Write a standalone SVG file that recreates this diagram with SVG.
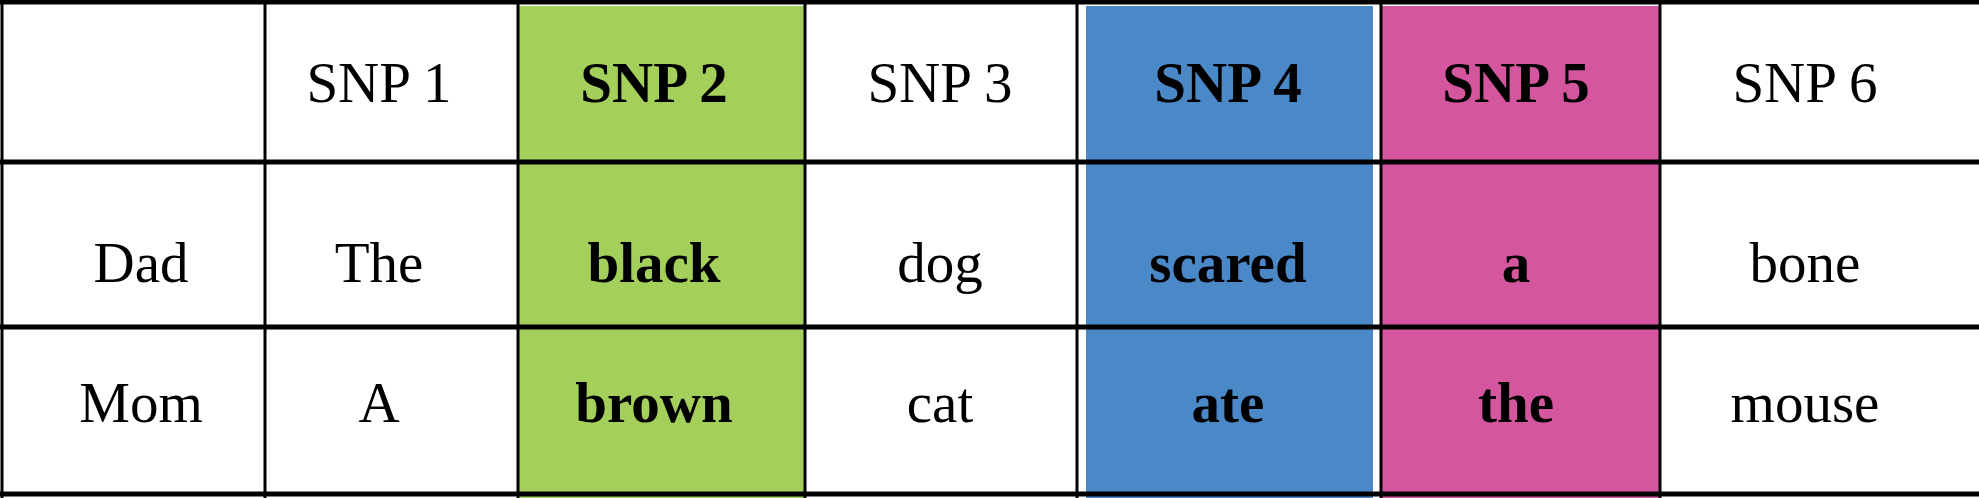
<svg xmlns="http://www.w3.org/2000/svg" width="1979" height="498" viewBox="0 0 1979 498">
<style>
text{font-family:"Liberation Serif",serif;font-size:57px;fill:#000;text-anchor:middle}
.b{font-weight:bold}
.v{stroke:#000;stroke-width:3}
.h{stroke:#000;stroke-width:5}
</style>
<rect width="1979" height="498" fill="#fff"/>
<g id="fills">
<rect x="517" y="6" width="288" height="492" fill="#a3cf5a"/>
<rect x="1086" y="6" width="287" height="492" fill="#4a88c7"/>
<rect x="1381" y="6" width="278" height="492" fill="#d4569e"/>
</g>
<g id="grid">
<line class="h" x1="0" y1="2" x2="1979" y2="2"/>
<line class="h" x1="0" y1="162" x2="1979" y2="162"/>
<line class="h" x1="0" y1="327" x2="1979" y2="327"/>
<line class="h" x1="0" y1="494" x2="1979" y2="494"/>
<line class="v" x1="2" y1="0" x2="2" y2="498"/>
<line class="v" x1="265" y1="0" x2="265" y2="498"/>
<line class="v" x1="518" y1="0" x2="518" y2="498"/>
<line class="v" x1="805" y1="0" x2="805" y2="498"/>
<line class="v" x1="1077" y1="0" x2="1077" y2="498"/>
<line class="v" x1="1381" y1="0" x2="1381" y2="498"/>
<line class="v" x1="1660" y1="0" x2="1660" y2="498"/>
</g>
<g id="header">
<text x="379" y="102">SNP 1</text>
<text class="b" x="654" y="102">SNP 2</text>
<text x="940" y="102">SNP 3</text>
<text class="b" x="1228" y="102">SNP 4</text>
<text class="b" x="1516" y="102">SNP 5</text>
<text x="1805" y="102">SNP 6</text>
</g>
<g id="dad">
<text x="141" y="282">Dad</text>
<text x="379" y="282">The</text>
<text class="b" x="654" y="282">black</text>
<text x="940" y="282">dog</text>
<text class="b" x="1228" y="282">scared</text>
<text class="b" x="1516" y="282">a</text>
<text x="1805" y="282">bone</text>
</g>
<g id="mom">
<text x="141" y="422">Mom</text>
<text x="379" y="422">A</text>
<text class="b" x="654" y="422">brown</text>
<text x="940" y="422">cat</text>
<text class="b" x="1228" y="422">ate</text>
<text class="b" x="1516" y="422">the</text>
<text x="1805" y="422">mouse</text>
</g>
</svg>
